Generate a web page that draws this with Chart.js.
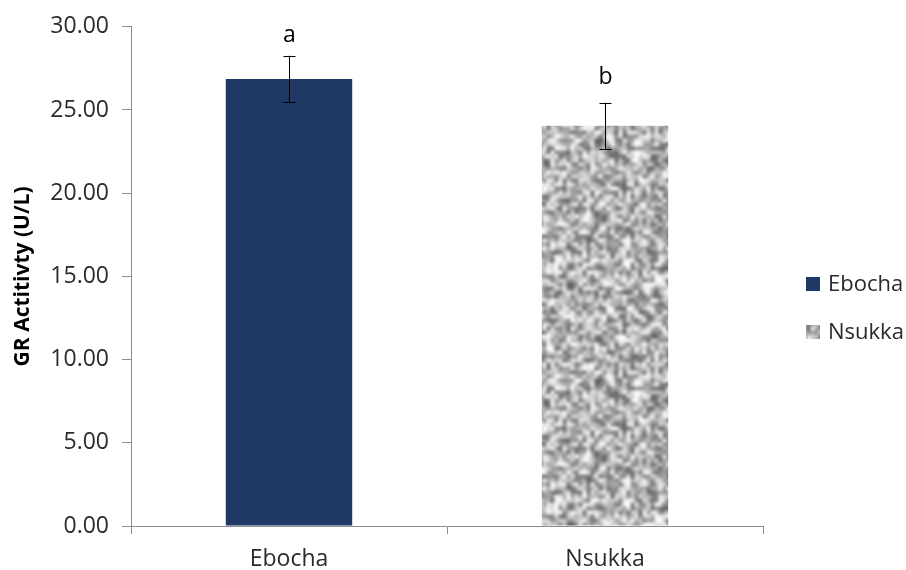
<!DOCTYPE html>
<html>
<head>
<meta charset="utf-8">
<title>GR Activity</title>
<script src="https://cdn.jsdelivr.net/npm/chart.js@4.4.1/dist/chart.umd.min.js"></script>
<style>
  html, body { margin: 0; padding: 0; background: #ffffff; }
  #wrap { width: 906px; height: 570px; position: relative; }
</style>
</head>
<body>
<div id="wrap"><canvas id="chart" width="906" height="570"></canvas></div>
<script>
// Sites, mean GR activity, standard error and significance letters
const categories = ['Ebocha', 'Nsukka'];
const activity = [26.87, 24.05];
const errors = [1.39, 1.39];
const letters = ['a', 'b'];
const yTicks = [0, 5, 10, 15, 20, 25, 30];

const FONT = '"Open Sans", "Noto Sans", sans-serif';
const TEXT = '#2b2b2b';
const AXIS = '#8c8c8c';
const NAVY = '#203864';

// Speckled grey fill for the Nsukka bar: deterministic hash noise,
// interpolated with wrap-around so the tile repeats seamlessly
function speckle() {
  const n = 60, scale = 4, size = n * scale;
  const cell = (x, y) => {
    x = ((x % n) + n) % n; y = ((y % n) + n) % n;
    const h = Math.sin(x * 12.9898 + y * 78.233) * 43758.5453;
    return h - Math.floor(h);
  };
  const ease = t => t * t * (3 - 2 * t);
  const raw = document.createElement('canvas');
  raw.width = size; raw.height = size;
  const rctx = raw.getContext('2d');
  const img = rctx.createImageData(size, size);
  for (let py = 0; py < size; py++) {
    for (let px = 0; px < size; px++) {
      const gx = px / scale, gy = py / scale;
      const x0 = Math.floor(gx), y0 = Math.floor(gy);
      const fx = ease(gx - x0), fy = ease(gy - y0);
      const a = cell(x0, y0), b = cell(x0 + 1, y0), c = cell(x0, y0 + 1), d = cell(x0 + 1, y0 + 1);
      const r = (a * (1 - fx) + b * fx) * (1 - fy) + (c * (1 - fx) + d * fx) * fy;
      const v = Math.round(90 + r * 175);
      const i = (py * size + px) * 4;
      img.data[i] = v; img.data[i + 1] = v; img.data[i + 2] = v; img.data[i + 3] = 255;
    }
  }
  rctx.putImageData(img, 0, 0);
  // lay out a 3x3 block, then soften it as one image so edges blend across tiles
  const block = document.createElement('canvas');
  block.width = size * 3; block.height = size * 3;
  const kctx = block.getContext('2d');
  for (let i = 0; i < 3; i++) {
    for (let j = 0; j < 3; j++) kctx.drawImage(raw, i * size, j * size);
  }
  const soft = document.createElement('canvas');
  soft.width = size * 3; soft.height = size * 3;
  const sctx = soft.getContext('2d');
  sctx.filter = 'blur(1.4px)';
  sctx.drawImage(block, 0, 0);
  const tile = document.createElement('canvas');
  tile.width = size; tile.height = size;
  tile.getContext('2d').drawImage(soft, size, size, size, size, 0, 0, size, size);
  return document.getElementById('chart').getContext('2d').createPattern(tile, 'repeat');
}
const grey = speckle();
const fills = [NAVY, grey];

// Error bars, letters and the side legend
const annotate = {
  id: 'annotate',
  afterDatasetsDraw(chart) {
    const { ctx, scales: { x, y } } = chart;
    const letterGap = [9, 14];
    ctx.save();
    ctx.strokeStyle = '#000000';
    ctx.lineWidth = 1;
    ctx.fillStyle = '#000000';
    ctx.font = '23px ' + FONT;
    ctx.textAlign = 'center';
    ctx.textBaseline = 'bottom';
    categories.forEach((c, i) => {
      const cx = Math.round(x.getPixelForValue(i)) + 0.5;
      const top = y.getPixelForValue(activity[i] + errors[i]);
      const bot = y.getPixelForValue(activity[i] - errors[i]);
      ctx.beginPath();
      ctx.moveTo(cx, top); ctx.lineTo(cx, bot);
      ctx.moveTo(cx - 6, Math.round(top) + 0.5); ctx.lineTo(cx + 6, Math.round(top) + 0.5);
      ctx.moveTo(cx - 6, Math.round(bot) + 0.5); ctx.lineTo(cx + 6, Math.round(bot) + 0.5);
      ctx.stroke();
      ctx.fillText(letters[i], cx, top - letterGap[i]);
    });
    // legend
    const lx = 806, rows = [284, 332];
    ctx.textAlign = 'left';
    ctx.textBaseline = 'middle';
    ctx.font = '22px ' + FONT;
    categories.forEach((c, i) => {
      ctx.fillStyle = fills[i];
      ctx.fillRect(lx, rows[i] - 7, 14, 14);
      ctx.fillStyle = TEXT;
      ctx.fillText(c, lx + 22, rows[i] + 1);
    });
    ctx.restore();
  }
};

new Chart(document.getElementById('chart'), {
  type: 'bar',
  data: {
    labels: categories,
    datasets: [{
      label: 'GR Activity',
      data: activity,
      backgroundColor: fills,
      borderWidth: 0,
      categoryPercentage: 1,
      barPercentage: 0.4
    }]
  },
  options: {
    responsive: false,
    animation: false,
    layout: { padding: { top: 24, right: 143, bottom: 0, left: 0 } },
    plugins: { legend: { display: false }, tooltip: { enabled: false } },
    scales: {
      x: {
        grid: { display: true, drawOnChartArea: false, offset: true, tickLength: 8, color: AXIS, lineWidth: 1 },
        border: { display: true, color: AXIS, width: 1 },
        ticks: { color: TEXT, font: { family: FONT, size: 23 }, padding: 12 },
        afterFit(s) { s.height = 44; }
      },
      y: {
        min: 0, max: 30,
        afterBuildTicks(s) { s.ticks = yTicks.map(v => ({ value: v })); },
        grid: { display: true, drawOnChartArea: false, tickLength: 9, color: AXIS, lineWidth: 1 },
        border: { display: true, color: AXIS, width: 1 },
        ticks: { color: TEXT, font: { family: FONT, size: 23 }, padding: 13, callback: v => v.toFixed(2) },
        title: { display: true, text: 'GR Actitivty (U/L)', color: '#000000', font: { family: FONT, size: 21, weight: 'bold' }, padding: { top: 10, bottom: 0 } },
        afterFit(s) { s.width = 131; }
      }
    }
  },
  plugins: [annotate]
});
</script>
</body>
</html>
